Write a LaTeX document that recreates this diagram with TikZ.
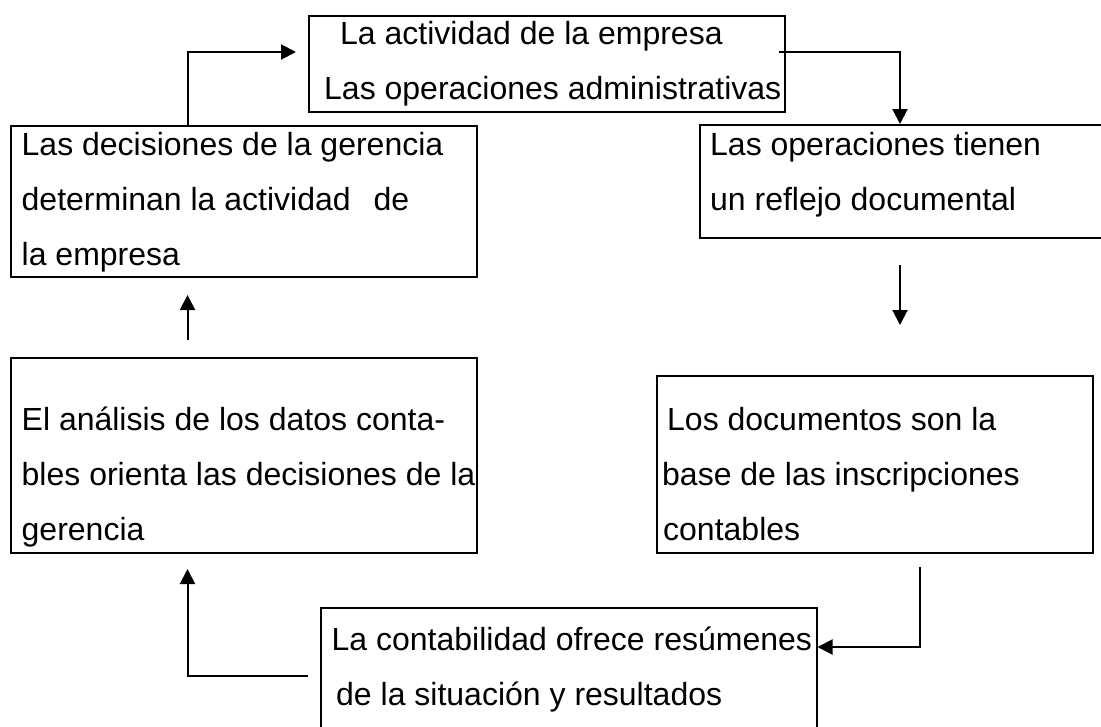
\documentclass[tikz,border=0pt]{standalone}
\usepackage{fontspec}
\setmainfont{Liberation Sans}
\usetikzlibrary{arrows.meta}
\begin{document}
\begin{tikzpicture}[x=1pt,y=-1pt,
  box/.style={draw, line width=1.5pt, rectangle, anchor=north west, inner sep=0pt},
  txt/.style={anchor=base west, inner sep=0pt, font=\fontsize{32}{38}\selectfont},
  arr/.style={line width=2pt, -{Triangle[length=15pt,width=15pt]}}]
\clip (0,0) rectangle (1101,726);
\fill[white] (0,0) rectangle (1101,726);
% boxes
\node[box, minimum width=476pt, minimum height=96pt]  (A) at (308,15)  {};
\node[box, minimum width=466pt, minimum height=151pt] (B) at (10,125)  {};
\node[box, minimum width=420pt, minimum height=113pt] (C) at (699,124) {};
\node[box, minimum width=466pt, minimum height=195pt] (D) at (10,357)  {};
\node[box, minimum width=436pt, minimum height=177pt] (E) at (656,375) {};
\node[box, minimum width=496pt, minimum height=140pt] (F) at (320,607) {};
% texts
\node[txt] (a1) at (340,44) {La actividad de la empresa};
\node[txt] (a2) at (324,99) {Las operaciones administrativas};
\node[txt] (b1) at (21.5,155) {Las decisiones de la gerencia};
\node[txt] (b2) at (21.5,210) {determinan la actividad\hspace{23pt}de};
\node[txt] (b3) at (21.5,265) {la empresa};
\node[txt] (c1) at (710,155) {Las operaciones tienen};
\node[txt] (c2) at (710,210) {un reflejo documental};
\node[txt] (d1) at (21.5,430) {El análisis de los datos conta-};
\node[txt] (d2) at (21.5,485) {bles orienta las decisiones de la};
\node[txt] (d3) at (21.5,540) {gerencia};
\node[txt] (e1) at (667,430) {Los documentos son la};
\node[txt] (e2) at (662,485) {base de las inscripciones};
\node[txt] (e3) at (663,540) {contables};
\node[txt] (f1) at (331.5,650) {La contabilidad ofrece resúmenes};
\node[txt] (f2) at (336,705) {de la situación y resultados};
% connector end points
\coordinate (q1) at (296,52);
\coordinate (q2) at (779,52);
\coordinate (q3) at (900,265);
\coordinate (q4) at (900,325);
\coordinate (q5) at (920,567);
\coordinate (q6) at (308,676);
\coordinate (q7) at (187.5,569);
\coordinate (q8) at (187.5,340);
\coordinate (q9) at (187.5,295);
% connectors
\draw[arr] (187.5,0 |- B.north) |- (q1);
\draw[arr] (q2) -| (900,0 |- C.north);
\draw[arr] (q3) -- (q4);
\draw[arr] (q5) |- (F.east |- 0,647);
\draw[arr] (q6) -| (q7);
\draw[arr] (q8) -- (q9);
\end{tikzpicture}
\end{document}
